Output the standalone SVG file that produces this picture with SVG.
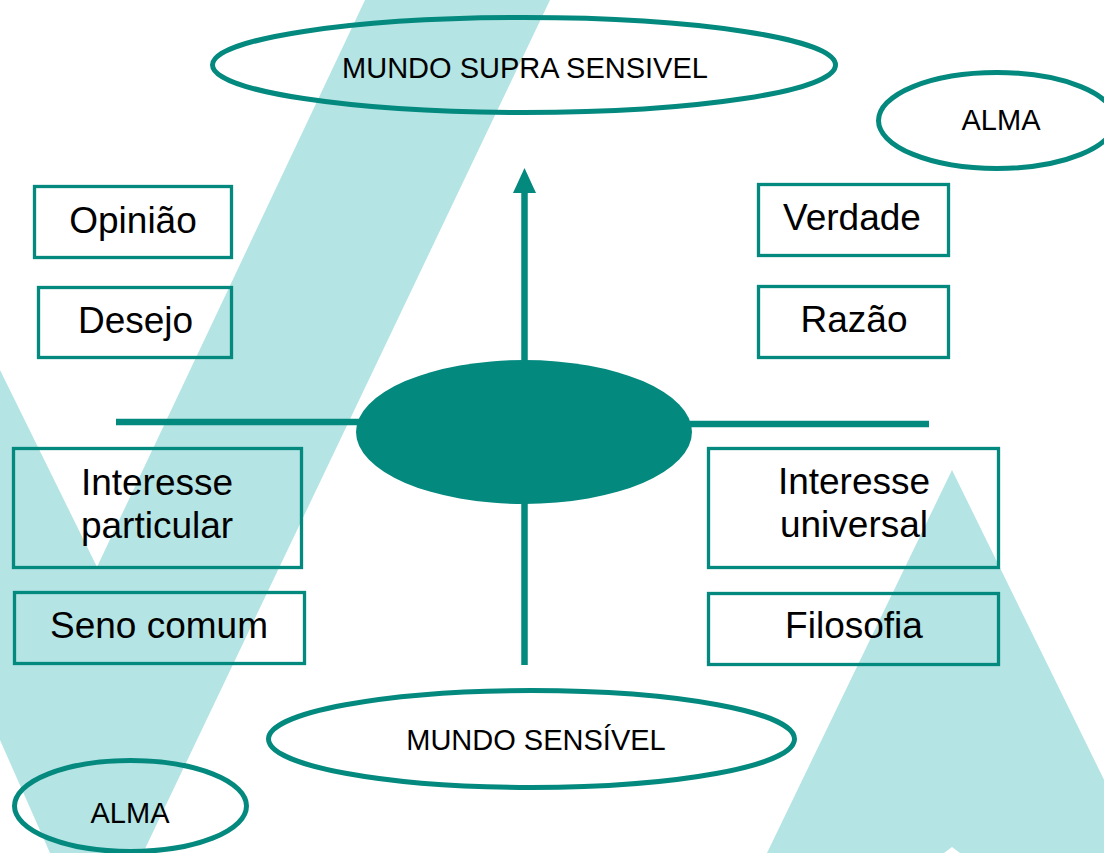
<svg xmlns="http://www.w3.org/2000/svg" width="1104" height="853" viewBox="0 0 1104 853">
<style>
.bg{fill:#B4E4E3;stroke:none}
.box{fill:none;stroke:#04897F;stroke-width:3.3}
.ell{fill:none;stroke:#04897F;stroke-width:5}
.ln{stroke:#04897F;stroke-width:6.5;fill:none}
text{font-family:"Liberation Sans",Arial,sans-serif;fill:#000;text-anchor:middle}
.big{font-size:37px}
.sm{font-size:29px}
</style>
<rect width="1104" height="853" fill="#fff"/>
<g id="background">
<polygon class="bg" points="365,0 550,0 143,853 50,853 0,740 0,370 97,567"/>
<polygon class="bg" points="952,470 1140,853 960,853 952,847 944,853 767,853"/>
</g>
<g id="connectors">
<line class="ln" x1="116" y1="422" x2="360" y2="422"/>
<line class="ln" x1="688" y1="424" x2="929" y2="424"/>
<line class="ln" x1="524.5" y1="362" x2="524.5" y2="190"/>
<polygon fill="#04897F" points="524.5,168 536,193 513,193"/>
<line class="ln" x1="524.5" y1="500" x2="524.5" y2="665"/>
</g>
<g id="center"><ellipse cx="524" cy="432" rx="168" ry="72" fill="#04897F"/></g>
<g id="mundo-supra"><ellipse class="ell" cx="524" cy="65" rx="311.5" ry="47.5"/><text class="sm" x="525" y="78">MUNDO SUPRA SENSIVEL</text></g>
<g id="alma-top"><ellipse class="ell" cx="997" cy="120.5" rx="118.5" ry="48"/><text class="sm" x="1001" y="130">ALMA</text></g>
<g id="opiniao"><rect class="box" x="34.5" y="186.5" width="197" height="71"/><text class="big" x="133" y="233">Opinião</text></g>
<g id="desejo"><rect class="box" x="38.5" y="287.5" width="193" height="70"/><text class="big" x="135.5" y="333">Desejo</text></g>
<g id="verdade"><rect class="box" x="758.5" y="184.5" width="190" height="71"/><text class="big" x="852" y="230">Verdade</text></g>
<g id="razao"><rect class="box" x="758.5" y="286.5" width="190" height="71"/><text class="big" x="854" y="332">Razão</text></g>
<g id="interesse-particular"><rect class="box" x="13.5" y="448.5" width="288" height="119"/><text class="big" x="157" y="495">Interesse</text><text class="big" x="157" y="538">particular</text></g>
<g id="seno-comum"><rect class="box" x="14.5" y="592.5" width="290" height="71"/><text class="big" x="159" y="638">Seno comum</text></g>
<g id="interesse-universal"><rect class="box" x="708.5" y="448.5" width="290" height="119"/><text class="big" x="854" y="494">Interesse</text><text class="big" x="854" y="537">universal</text></g>
<g id="filosofia"><rect class="box" x="708.5" y="593.5" width="290" height="71"/><text class="big" x="854" y="638">Filosofia</text></g>
<g id="mundo-sensivel"><ellipse class="ell" cx="531.5" cy="739" rx="263" ry="48.5"/><text class="sm" x="536" y="750">MUNDO SENSÍVEL</text></g>
<g id="alma-bottom"><ellipse class="ell" cx="130.5" cy="806" rx="116" ry="45.5"/><text class="sm" x="130" y="823">ALMA</text></g>
</svg>
